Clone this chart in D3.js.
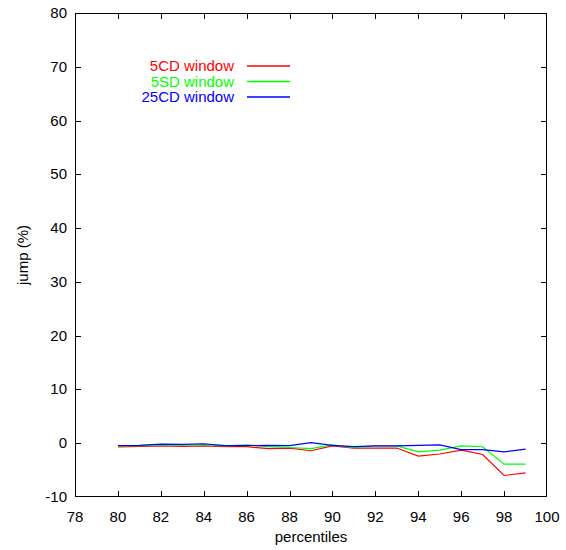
<!DOCTYPE html>
<html><head><meta charset="utf-8">
<script src="https://cdn.jsdelivr.net/npm/d3@7"></script>
<style>body{margin:0;background:#fff}svg{display:block;font-family:"Liberation Sans",Arial,sans-serif}</style>
</head><body><svg id="c" width="566" height="550"></svg>
<script>
const percentiles = [80,81,82,83,84,85,86,87,88,89,90,91,92,93,94,95,96,97,98,99];
const red5CD  = [-0.7,-0.6,-0.5,-0.6,-0.5,-0.65,-0.65,-1.0,-0.9,-1.4,-0.5,-0.9,-0.9,-0.9,-2.4,-2.0,-1.3,-2.1,-6.0,-5.5];
const green5SD = [-0.5,-0.45,-0.3,-0.35,-0.25,-0.5,-0.3,-0.65,-0.8,-1.0,-0.3,-0.8,-0.5,-0.5,-1.6,-1.3,-0.5,-0.65,-3.9,-3.9];
const blue25CD = [-0.45,-0.4,-0.15,-0.2,-0.1,-0.45,-0.45,-0.4,-0.45,0.1,-0.4,-0.65,-0.5,-0.5,-0.4,-0.3,-1.2,-1.2,-1.6,-1.1];
const seriesNames = ["5CD window","5SD window","25CD window"];
const seriesColors = ["#ff0000","#00ff00","#0000ff"];
const xTicks = [78,80,82,84,86,88,90,92,94,96,98,100];
const yTicks = [-10,0,10,20,30,40,50,60,70,80];

const svg = d3.select("#c");
const L=75,R=547,T=13,B=497;
const x = d3.scaleLinear().domain([78,100]).range([L,R]);
const y = d3.scaleLinear().domain([-10,80]).range([B,T]);
const tl = 6;
const g = svg.append("g").attr("stroke","#000").attr("stroke-width",1).attr("shape-rendering","crispEdges");
xTicks.forEach(v=>{
  if(v===78||v===100) return;
  const px=Math.round(x(v))+0.5;
  g.append("line").attr("x1",px).attr("x2",px).attr("y1",B).attr("y2",B-tl);
  g.append("line").attr("x1",px).attr("x2",px).attr("y1",T).attr("y2",T+tl);
});
yTicks.forEach(v=>{
  if(v===-10||v===80) return;
  const py=Math.round(y(v))+0.5;
  g.append("line").attr("x1",L).attr("x2",L+tl).attr("y1",py).attr("y2",py);
  g.append("line").attr("x1",R).attr("x2",R-tl).attr("y1",py).attr("y2",py);
});
g.append("rect").attr("x",L+0.5).attr("y",T+0.5).attr("width",R-L-1).attr("height",B-T-1).attr("fill","none");

const fs = 15;
xTicks.forEach(v=>{
  svg.append("text").attr("x",x(v)).attr("y",B+25).attr("text-anchor","middle").attr("font-size",fs).text(v);
});
yTicks.forEach(v=>{
  svg.append("text").attr("x",L-8).attr("y",y(v)+5).attr("text-anchor","end").attr("font-size",fs).text(v);
});
svg.append("text").attr("x",(L+R)/2).attr("y",542).attr("text-anchor","middle").attr("font-size",fs).text("percentiles");
svg.append("text").attr("transform","translate(28,"+((T+B)/2)+") rotate(-90)").attr("text-anchor","middle").attr("font-size",fs).text("jump (%)");

const all=[red5CD,green5SD,blue25CD];
const line = d3.line().x((d,i)=>x(percentiles[i])).y(d=>y(d));
all.forEach((s,k)=>{
  svg.append("path").datum(s).attr("d",line).attr("fill","none").attr("stroke",seriesColors[k]).attr("stroke-width",1.2);
});
seriesNames.forEach((n,k)=>{
  const ly = 66 + k*15.5;
  svg.append("text").attr("x",234).attr("y",ly+5).attr("text-anchor","end").attr("font-size",fs).attr("fill",seriesColors[k]).text(n);
  svg.append("line").attr("x1",247).attr("x2",290).attr("y1",ly).attr("y2",ly).attr("stroke",seriesColors[k]).attr("stroke-width",1.5);
});
</script></body></html>
